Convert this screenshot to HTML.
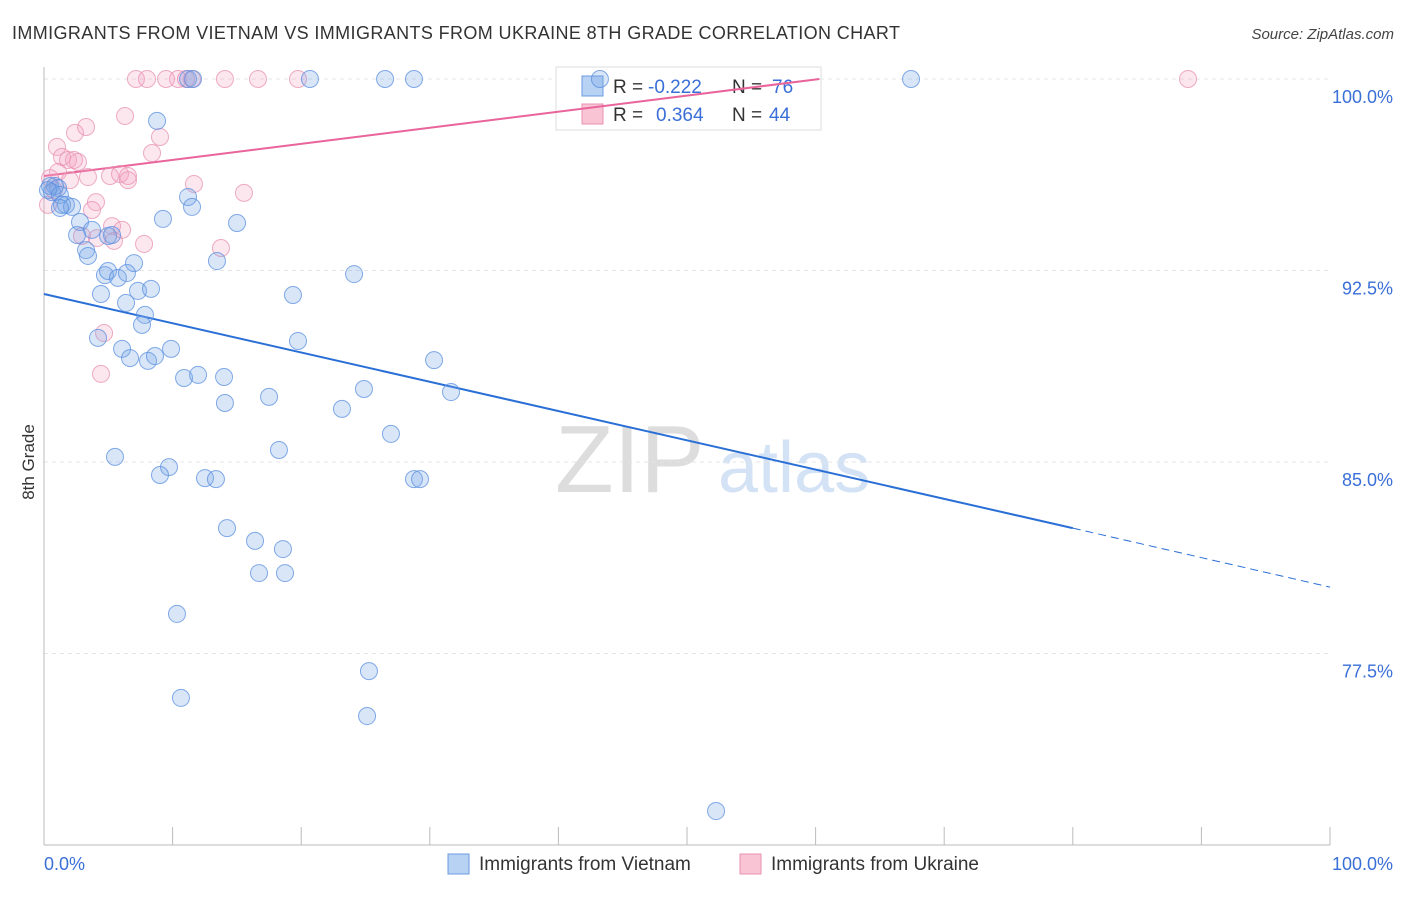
<!DOCTYPE html>
<html><head><meta charset="utf-8"><style>
body{margin:0;background:#fff;font-family:"Liberation Sans",sans-serif;}
svg text{font-family:"Liberation Sans",sans-serif;}
</style></head><body>
<svg id="chart" width="1406" height="892" xmlns="http://www.w3.org/2000/svg">
<text x="12" y="39" font-size="18" fill="#333" textLength="888">IMMIGRANTS FROM VIETNAM VS IMMIGRANTS FROM UKRAINE 8TH GRADE CORRELATION CHART</text>
<text x="1394" y="39" font-size="15" fill="#444" text-anchor="end" font-style="italic">Source: ZipAtlas.com</text>
<text x="34" y="462" font-size="17" fill="#333" text-anchor="middle" transform="rotate(-90 34 462)">8th Grade</text>
<g><text x="555" y="492" font-size="96" fill="#ddd" font-family="Liberation Serif,serif">ZIP</text><text x="718" y="492" font-size="72" fill="#d4e2f5">atlas</text></g>
<g id="grid"></g><g id="axes"></g>
<g>
<rect x="556" y="67" width="265" height="63" fill="#fff" stroke="#ddd"/>
<rect x="582" y="76" width="21" height="20" fill="#b8d2f4" stroke="#6a9be0"/>
<rect x="582" y="104" width="21" height="20" fill="#f9c4d4" stroke="#e890b0"/>
<text x="613" y="93" font-size="19" fill="#333">R =</text>
<text x="648" y="93" font-size="19" fill="#3a6fd8">-0.222</text>
<text x="732" y="93" font-size="19" fill="#333">N =</text>
<text x="772" y="93" font-size="19" fill="#3a6fd8">76</text>
<text x="613" y="121" font-size="19" fill="#333">R =</text>
<text x="656" y="121" font-size="19" fill="#3a6fd8">0.364</text>
<text x="732" y="121" font-size="19" fill="#333">N =</text>
<text x="769" y="121" font-size="19" fill="#3a6fd8">44</text>
</g>
<g id="trends"></g><g id="pts"></g>
<g>
<rect x="448" y="854" width="21" height="20" fill="#b8d2f4" stroke="#6a9be0"/>
<text x="479" y="870" font-size="19" fill="#333">Immigrants from Vietnam</text>
<rect x="740" y="854" width="21" height="20" fill="#f9c4d4" stroke="#e890b0"/>
<text x="771" y="870" font-size="19" fill="#333">Immigrants from Ukraine</text>
</g>
</svg>
<script>
const yTicks=[100,92.5,85,77.5];
const yTickLabels=["100.0%","92.5%","85.0%","77.5%"];
const xTicks=[0,10,20,30,40,50,60,70,80,90,100];
const xLabels=["0.0%","100.0%"];
const bluePx=[[157,121],[188,79],[193,79],[310,79],[385,79],[414,79],[600,79],[911,79],[50,186],[55,186],[58,188],[52,192],[48,190],[60,195],[62,205],[66,205],[72,207],[60,208],[80,222],[92,230],[77,235],[86,250],[88,256],[108,236],[112,235],[163,219],[188,197],[192,207],[237,223],[217,261],[134,263],[105,275],[108,271],[118,278],[127,273],[101,294],[138,291],[151,289],[126,303],[145,315],[142,325],[98,338],[122,349],[130,358],[148,361],[155,356],[171,349],[184,378],[198,375],[224,377],[225,403],[269,397],[293,295],[298,341],[354,274],[434,360],[451,392],[364,389],[342,409],[391,434],[279,450],[115,457],[169,467],[160,475],[205,478],[216,479],[414,479],[420,479],[227,528],[255,541],[283,549],[259,573],[285,573],[177,614],[369,671],[181,698],[367,716],[716,811]];
const pinkPx=[[136,79],[147,79],[166,79],[178,79],[186,79],[192,79],[225,79],[258,79],[298,79],[1188,79],[125,116],[75,133],[86,127],[57,147],[160,137],[152,153],[62,157],[68,160],[78,162],[74,160],[58,172],[70,180],[88,177],[110,176],[120,174],[128,176],[128,180],[194,184],[244,193],[48,205],[96,202],[92,210],[112,226],[122,230],[82,236],[97,238],[114,241],[144,244],[221,248],[104,333],[101,374],[50,178],[54,190]];
const blueX=bluePx.map(p=>+((p[0]-44)/12.86).toFixed(2));
const blueY=bluePx.map(p=>+(100-(p[1]-79)/25.533).toFixed(2));
const pinkX=pinkPx.map(p=>+((p[0]-44)/12.86).toFixed(2));
const pinkY=pinkPx.map(p=>+(100-(p[1]-79)/25.533).toFixed(2));
const blueTrendX=[0,80,100];
const blueTrendY=[91.58,82.41,80.1];
const pinkTrendX=[0,60.3];
const pinkTrendY=[96.2,100];
const X=v=>44+v*12.86, Y=v=>79+(100-v)*25.533;
const NS="http://www.w3.org/2000/svg";
function mk(t,a,p){const e=document.createElementNS(NS,t);for(const k in a)e.setAttribute(k,a[k]);p.appendChild(e);return e;}
const grid=document.getElementById('grid'),axes=document.getElementById('axes'),tr=document.getElementById('trends'),pts=document.getElementById('pts');
yTicks.forEach((v,i)=>{
 const l=mk('line',{x1:44,x2:1330,y1:Y(v),y2:Y(v),stroke:'#e4e4e4','stroke-dasharray':'4,4'},grid);
 
 
 const t=mk('text',{x:1393,y:Y(v)+24,'font-size':18,fill:'#3a6fd8','text-anchor':'end'},axes);t.textContent=yTickLabels[i];
 
 
});
const al=mk('line',{x1:44,x2:1330,y1:845,y2:845,stroke:'#bbb'},axes);


const yl=mk('line',{x1:44,x2:44,y1:67,y2:845,stroke:'#bbb'},axes);


xTicks.forEach(v=>{const t=mk('line',{x1:X(v),x2:X(v),y1:827,y2:845,stroke:'#bbb'},axes);
 
 });
[[0,'start'],[100,'end']].forEach((a,i)=>{const t=mk('text',{x:i?1393:44,y:870,'font-size':18,fill:'#3a6fd8','text-anchor':a[1]},axes);t.textContent=xLabels[i];
 
 });
function pt(xs,ys,fill,stroke,name){xs.forEach((x,i)=>{const c=mk('circle',{cx:X(x),cy:Y(ys[i]),r:8.5,fill:fill,stroke:stroke,'stroke-width':1,'stroke-opacity':0.75},pts);
 
 });}
pt(pinkX,pinkY,'rgba(244,160,190,0.25)','#e890b0','ukraine-point');
pt(blueX,blueY,'rgba(120,165,230,0.28)','#5a8fe0','vietnam-point');
const b1=mk('line',{x1:X(blueTrendX[0]),y1:Y(blueTrendY[0]),x2:X(blueTrendX[1]),y2:Y(blueTrendY[1]),stroke:'#2a6fd6','stroke-width':2},tr);


const b2=mk('line',{x1:X(blueTrendX[1]),y1:Y(blueTrendY[1]),x2:X(blueTrendX[2]),y2:Y(blueTrendY[2]),stroke:'#2a6fd6','stroke-width':1,'stroke-dasharray':'8,5'},tr);


const p1=mk('line',{x1:X(pinkTrendX[0]),y1:Y(pinkTrendY[0]),x2:X(pinkTrendX[1]),y2:Y(pinkTrendY[1]),stroke:'#e8649a','stroke-width':2},tr);


</script>
</body></html>
